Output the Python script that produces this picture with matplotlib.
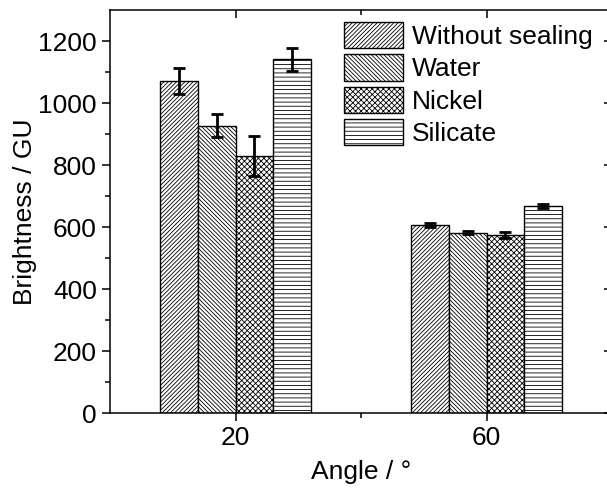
import numpy as np
import matplotlib
matplotlib.use("Agg")
import matplotlib.pyplot as plt
from matplotlib.patches import Patch

# data
angles = [20, 60]
series = ["Without sealing", "Water", "Nickel", "Silicate"]
values = {
    "Without sealing": [1071, 606],
    "Water": [927, 581],
    "Nickel": [828, 575],
    "Silicate": [1141, 667],
}
errors = {
    "Without sealing": [42, 7],
    "Water": [38, 5],
    "Nickel": [65, 9],
    "Silicate": [38, 6],
}
hatches = ["/" * 8, "\\" * 8, "x" * 6, "-" * 4]

plt.rcParams['font.family'] = ['Liberation Sans', 'DejaVu Sans']
plt.rcParams['hatch.linewidth'] = 0.6
plt.rcParams['hatch.color'] = '#333333'

FS = 19

fig = plt.figure(figsize=(6.07, 4.94), dpi=100)
ax = fig.add_axes([110 / 607, 81 / 494, 502 / 607, 403 / 494])

width = 6
offsets = [-9, -3, 3, 9]
x = np.array(angles)
for name, off, h in zip(series, offsets, hatches):
    ax.bar(x + off, values[name], width, facecolor='white', edgecolor='black',
           linewidth=1.0, hatch=h, zorder=2)
    ax.errorbar(x + off, values[name], yerr=errors[name], fmt='none',
                ecolor='black', elinewidth=2, capsize=4.5, capthick=2, zorder=3)

ax.set_xlim(0, 80)
ax.set_ylim(0, 1300)
ax.set_xticks(angles)
ax.set_xticks([40], minor=True)
ax.set_yticks(np.arange(0, 1201, 200))
ax.set_yticks(np.arange(100, 1300, 200), minor=True)

for s in ax.spines.values():
    s.set_linewidth(1.1)

ax.tick_params(axis='both', which='major', labelsize=FS, length=6, width=1.1)
ax.tick_params(axis='both', which='minor', length=3.5, width=1.1)
ax.tick_params(axis='both', which='both', direction='out', top=False)

# inward ticks on top and right
ax_top = ax.secondary_xaxis('top')
ax_top.set_xticks(angles)
ax_top.set_xticks([40], minor=True)
ax_top.tick_params(which='both', direction='in', labeltop=False, width=1.1)
ax_top.tick_params(which='major', length=6)
ax_top.tick_params(which='minor', length=3.5)
ax_top.spines['top'].set_visible(False)
ax_right = ax.secondary_yaxis('right')
ax_right.set_yticks(np.arange(0, 1201, 200))
ax_right.tick_params(direction='in', labelright=False, length=6, width=1.1)
ax_right.spines['right'].set_visible(False)

ax.set_xlabel("Angle / °", fontsize=FS, labelpad=7)
ax.set_ylabel("Brightness / GU", fontsize=FS, labelpad=1)

handles = [Patch(facecolor='white', edgecolor='black', hatch=h, linewidth=1.0)
           for h in hatches]
ax.legend(handles, series, loc='upper left', bbox_to_anchor=(344 / 607, 1 - 22 / 494),
          bbox_transform=fig.transFigure, frameon=False, fontsize=FS,
          handlelength=2.25, handleheight=1.15, handletextpad=0.32,
          labelspacing=0.2, borderpad=0, borderaxespad=0)

fig.savefig("out.png", dpi=100)
